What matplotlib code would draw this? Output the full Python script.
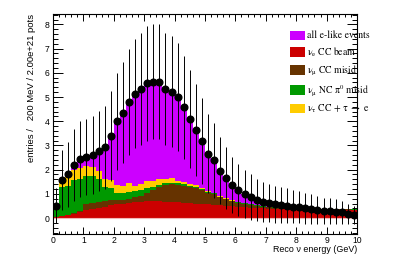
import numpy as np
import matplotlib
matplotlib.use("Agg")
import matplotlib.pyplot as plt
from matplotlib.patches import Patch
from matplotlib.ticker import MultipleLocator

# 50 bins of 200 MeV from 0 to 10 GeV
bin_edges = np.linspace(0, 10, 51)

# all e-like events (also the data points)
all_elike = [0.51, 1.56, 1.80, 2.19, 2.44, 2.52, 2.60, 2.77, 2.92, 3.39,
             4.00, 4.35, 4.79, 5.14, 5.33, 5.56, 5.63, 5.63, 5.33, 5.22,
             4.99, 4.57, 4.09, 3.64, 3.17, 2.66, 2.38, 1.96, 1.64, 1.35,
             1.17, 0.99, 0.87, 0.74, 0.67, 0.61, 0.56, 0.54, 0.51, 0.47,
             0.44, 0.41, 0.37, 0.34, 0.30, 0.28, 0.26, 0.23, 0.17, 0.14]

nue_cc_beam = [0.04, 0.08, 0.12, 0.18, 0.25, 0.35, 0.38, 0.43, 0.47, 0.55,
               0.56, 0.59, 0.63, 0.65, 0.68, 0.70, 0.71, 0.70, 0.68, 0.67,
               0.65, 0.64, 0.61, 0.60, 0.57, 0.56, 0.54, 0.52, 0.50, 0.48,
               0.45, 0.44, 0.42, 0.41, 0.40, 0.39, 0.39, 0.38, 0.38, 0.37,
               0.37, 0.36, 0.36, 0.36, 0.35, 0.35, 0.35, 0.35, 0.34, 0.34]

numu_cc_misid = [0.00, 0.00, 0.00, 0.04, 0.06, 0.23, 0.25, 0.25, 0.23, 0.18,
                 0.18, 0.17, 0.17, 0.21, 0.24, 0.32, 0.45, 0.59, 0.68, 0.73,
                 0.73, 0.70, 0.68, 0.63, 0.59, 0.49, 0.45, 0.34, 0.27, 0.21,
                 0.18, 0.15, 0.12, 0.09, 0.07, 0.06, 0.04, 0.04, 0.03, 0.03,
                 0.02, 0.03, 0.02, 0.02, 0.02, 0.02, 0.02, 0.01, 0.02, 0.01]

numu_nc_pi0 = [0.43, 1.21, 1.22, 1.35, 1.30, 1.16, 1.11, 0.92, 0.59, 0.52,
               0.31, 0.27, 0.27, 0.24, 0.25, 0.21, 0.13, 0.09, 0.08, 0.06,
               0.05, 0.05, 0.04, 0.04, 0.03, 0.03, 0.03, 0.02, 0.02, 0.02,
               0.02, 0.02, 0.02, 0.02, 0.02, 0.01, 0.01, 0.01, 0.01, 0.01,
               0.01, 0.01, 0.01, 0.01, 0.01, 0.01, 0.01, 0.01, 0.01, 0.01]

nutau_cc = [0.00, 0.21, 0.36, 0.43, 0.44, 0.41, 0.36, 0.33, 0.34, 0.33,
            0.33, 0.31, 0.38, 0.23, 0.23, 0.29, 0.24, 0.22, 0.19, 0.18,
            0.12, 0.09, 0.09, 0.08, 0.07, 0.05, 0.03, 0.03, 0.03, 0.02,
            0.02, 0.02, 0.02, 0.02, 0.01, 0.01, 0.01, 0.01, 0.01, 0.01,
            0.01, 0.01, 0.01, 0.01, 0.01, 0.01, 0.01, 0.01, 0.01, 0.01]

labels = ["all e-like events",
          r"ν$_{e}$ CC beam",
          r"ν$_{μ}$ CC misid",
          r"ν$_{μ}$ NC π$^{0}$ misid",
          r"ν$_{τ}$ CC + τ $\rightarrow$ e"]
colors = ["#cc00ff", "#cc0000", "#663300", "#009900", "#ffcc00"]

plt.rcParams["font.family"] = ["Liberation Sans", "DejaVu Sans"]
plt.rcParams["mathtext.fontset"] = "stix"
plt.rcParams["mathtext.default"] = "regular"

fig = plt.figure(figsize=(4.11, 2.79), dpi=100)
ax = fig.add_axes([53 / 411, 1 - 234 / 279, 304 / 411, 220 / 279])

# magenta total behind the stack
ax.stairs(all_elike, bin_edges, baseline=0, fill=True, color=colors[0], lw=0, zorder=1)

stack = [nue_cc_beam, numu_cc_misid, numu_nc_pi0, nutau_cc]
bottom = np.zeros(len(all_elike))
for vals, col in zip(stack, colors[1:]):
    top = bottom + np.array(vals)
    ax.stairs(top, bin_edges, baseline=bottom, fill=True, color=col, lw=0, zorder=2)
    bottom = top

ax.axhline(0, color="#f2b8b8", lw=0.8, zorder=2.5)

centers = 0.5 * (bin_edges[:-1] + bin_edges[1:])
data = np.array(all_elike)
ax.errorbar(centers, data, yerr=np.sqrt(data), fmt="o", color="black",
            ms=4.8, elinewidth=0.7, capsize=0, zorder=3)

ax.set_xlim(0, 10)
ax.set_ylim(-0.66, 8.43)

ax.xaxis.set_major_locator(MultipleLocator(1))
ax.xaxis.set_minor_locator(MultipleLocator(0.2))
ax.yaxis.set_major_locator(MultipleLocator(1))
ax.yaxis.set_minor_locator(MultipleLocator(0.2))
ax.tick_params(which="both", direction="in", top=True, right=True,
               labelsize=6.2, width=0.7)
ax.tick_params(axis="x", which="major", length=5, pad=1.5)
ax.tick_params(axis="x", which="minor", length=2.5)
ax.tick_params(axis="y", which="major", length=7, pad=2.5)
ax.tick_params(axis="y", which="minor", length=3.5)
for sp in ax.spines.values():
    sp.set_linewidth(0.8)

fig.text(31 / 411, 1 - 14 / 279, "entries /   200 MeV / 2.00e+21 pots",
         rotation=90, ha="center", va="top", fontsize=6.8)
fig.text(357 / 411, 1 - 249 / 279, "Reco ν energy (GeV)",
         ha="right", va="center", fontsize=6.4)

handles = [Patch(facecolor=c, edgecolor="none") for c in colors]
ax.legend(handles, labels, loc="upper left", bbox_to_anchor=(0.78, 0.925),
          frameon=False, borderpad=0, borderaxespad=0,
          handlelength=1.5, handleheight=1.1, handletextpad=0.25,
          labelspacing=0.5,
          prop={"family": ["STIXGeneral", "DejaVu Serif"], "size": 7})

fig.savefig("out.png", dpi=100)
